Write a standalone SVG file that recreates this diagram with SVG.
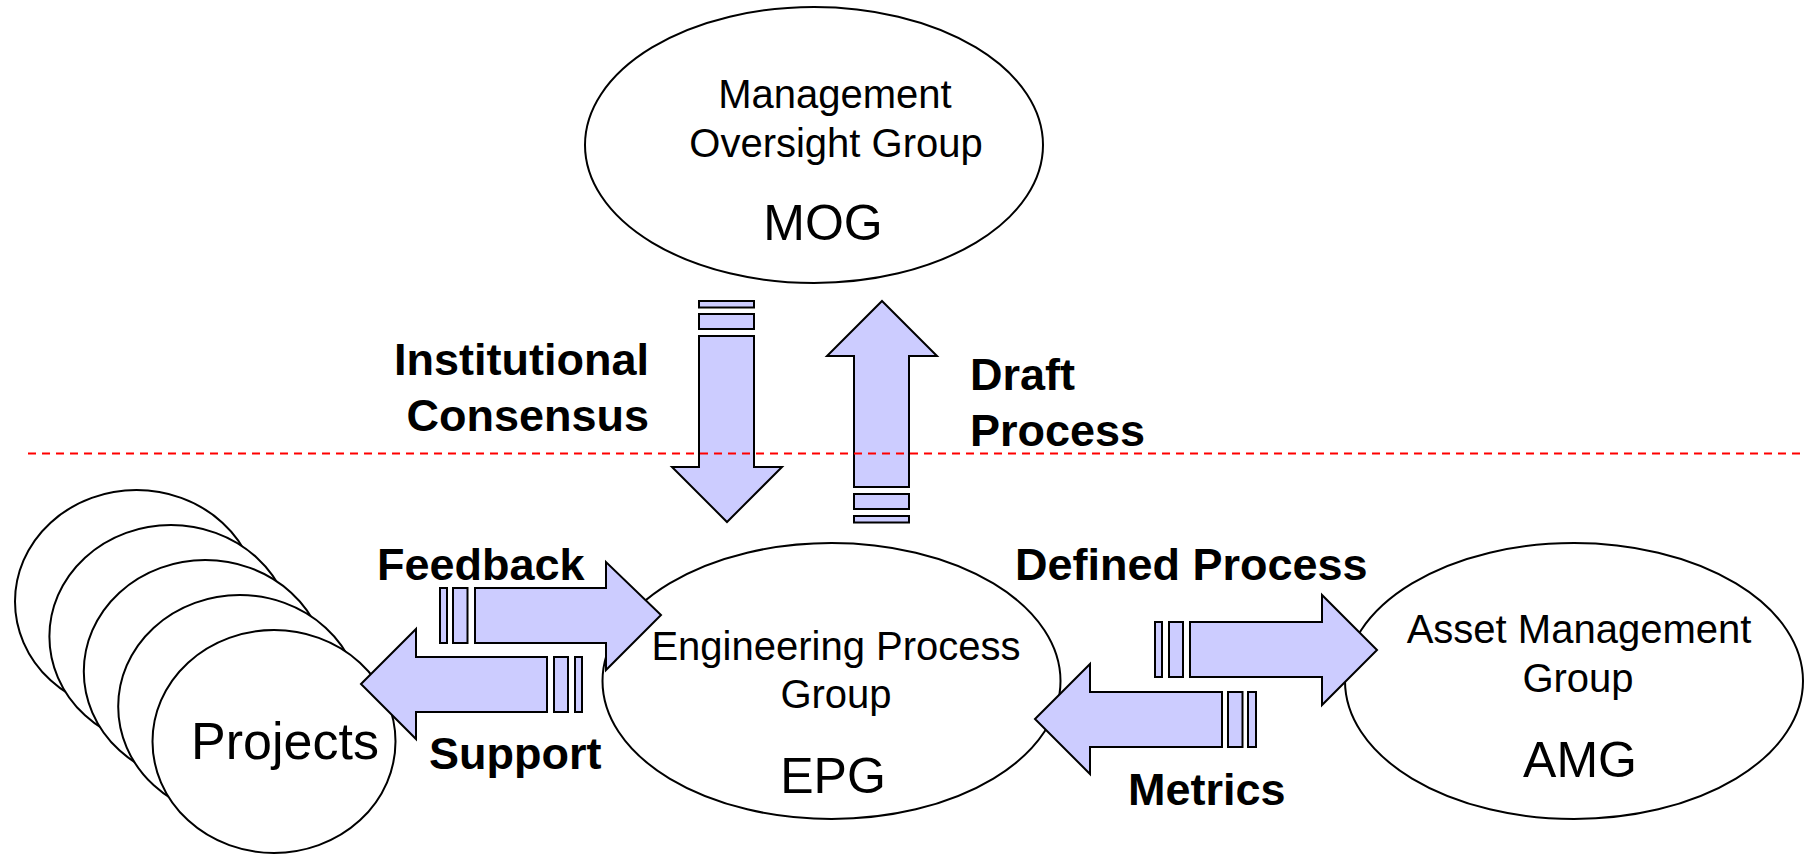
<svg xmlns="http://www.w3.org/2000/svg" width="1808" height="854" viewBox="0 0 1808 854">
<style>
.node{fill:#ffffff;stroke:#000000;stroke-width:2}
.arr{fill:#ccccff;stroke:#000000;stroke-width:2;stroke-linejoin:miter}
.t{font-family:"Liberation Sans",Arial,sans-serif;font-size:40px;fill:#000000;text-anchor:middle}
.big{font-family:"Liberation Sans",Arial,sans-serif;font-size:50px;fill:#000000;text-anchor:middle}
.lbl{font-family:"Liberation Sans",Arial,sans-serif;font-size:45px;font-weight:bold;fill:#000000}
.div{stroke:#ff0000;stroke-width:2;stroke-dasharray:8 6;fill:none}
</style>
<rect width="1808" height="854" fill="#ffffff"/>
<g id="MOG">
<ellipse class="node" cx="814" cy="145" rx="229" ry="138"/>
<text class="t" x="835" y="108">Management</text>
<text class="t" x="836" y="157">Oversight Group</text>
<text class="big" x="823" y="240">MOG</text>
</g>
<g id="EPG">
<ellipse class="node" cx="831.5" cy="681" rx="229" ry="138"/>
<text class="t" x="836" y="660">Engineering Process</text>
<text class="t" x="836" y="708">Group</text>
<text class="big" x="833" y="793">EPG</text>
</g>
<g id="AMG">
<ellipse class="node" cx="1574" cy="681" rx="229" ry="138"/>
<text class="t" x="1579" y="643">Asset Management</text>
<text class="t" x="1578" y="692">Group</text>
<text class="big" x="1580" y="777">AMG</text>
</g>
<g id="Projects">
<ellipse class="node" cx="136.5" cy="601.5" rx="121.5" ry="111.5"/>
<ellipse class="node" cx="170.9" cy="636.5" rx="121.5" ry="111.5"/>
<ellipse class="node" cx="205.3" cy="671.5" rx="121.5" ry="111.5"/>
<ellipse class="node" cx="239.7" cy="706.5" rx="121.5" ry="111.5"/>
<ellipse class="node" cx="274" cy="741.5" rx="121.5" ry="111.5"/>
<text class="big" x="285" y="759" style="font-size:52px">Projects</text>
</g>
<g id="connectors">
<g id="institutional-consensus">
<rect class="arr" x="699" y="301" width="55" height="6.5"/>
<rect class="arr" x="699" y="314" width="55" height="15"/>
<polygon class="arr" points="699,336 754,336 754,467 782,467 727,522 672,467 699,467"/>
</g>
<g id="draft-process">
<polygon class="arr" points="882,301 937,356 909,356 909,487 854,487 854,356 827,356"/>
<rect class="arr" x="854" y="494" width="55" height="15"/>
<rect class="arr" x="854" y="516" width="55" height="6.5"/>
</g>
<g id="feedback">
<rect class="arr" x="440" y="588" width="7" height="55"/>
<rect class="arr" x="453" y="588" width="14.5" height="55"/>
<polygon class="arr" points="475,588 606,588 606,562 661,615 606,670 606,643 475,643"/>
</g>
<g id="support">
<polygon class="arr" points="361,684 416,629 416,657 547,657 547,712 416,712 416,739"/>
<rect class="arr" x="554" y="657" width="14" height="55"/>
<rect class="arr" x="575" y="657" width="7" height="55"/>
</g>
<g id="defined-process">
<rect class="arr" x="1155" y="622" width="7" height="55"/>
<rect class="arr" x="1169" y="622" width="14" height="55"/>
<polygon class="arr" points="1190,622 1322,622 1322,595 1377,650 1322,705 1322,677 1190,677"/>
</g>
<g id="metrics">
<polygon class="arr" points="1035,719 1090,664 1090,692 1222,692 1222,747 1090,747 1090,774"/>
<rect class="arr" x="1228" y="692" width="14.5" height="55"/>
<rect class="arr" x="1248" y="692" width="8" height="55"/>
</g>
</g>
<g id="labels">
<text class="lbl" x="649" y="375" text-anchor="end">Institutional</text>
<text class="lbl" x="649" y="431" text-anchor="end">Consensus</text>
<text class="lbl" x="970" y="390">Draft</text>
<text class="lbl" x="970" y="446">Process</text>
<text class="lbl" x="377" y="580">Feedback</text>
<text class="lbl" x="429" y="769">Support</text>
<text class="lbl" x="1015" y="580">Defined Process</text>
<text class="lbl" x="1128" y="805">Metrics</text>
</g>
<line class="div" x1="28" y1="453.5" x2="1804" y2="453.5"/>
</svg>
